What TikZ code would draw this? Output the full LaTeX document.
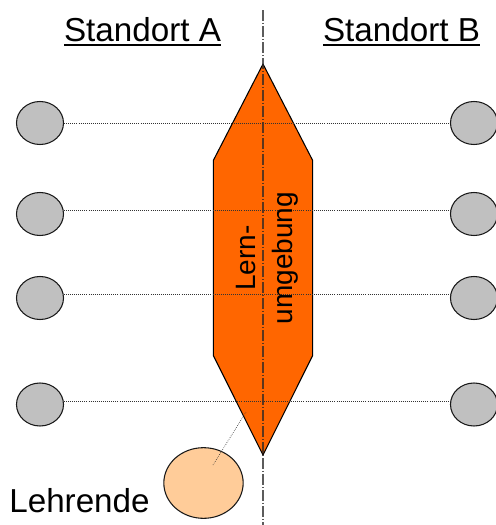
\documentclass[tikz,border=0pt]{standalone}
\usepackage{fontspec}
\setmainfont{Liberation Sans}
\usetikzlibrary{shapes.geometric}
\definecolor{lernorange}{HTML}{FF6600}
\definecolor{peach}{HTML}{FFCC99}
\definecolor{persongray}{HTML}{C0C0C0}
\newcommand{\thickul}[1]{\vtop{\hbox{#1}\kern1.9pt\hrule height 1.5pt}}
\tikzset{
  person/.style={ellipse,draw=black!90,line width=0.8pt,fill=persongray,minimum width=35.25pt,minimum height=32.25pt,inner sep=0pt},
  teacher/.style={ellipse,draw=black!90,line width=0.8pt,fill=peach,minimum width=59.5pt,minimum height=53pt,inner sep=0pt},
  heading/.style={font=\fontsize{24.9pt}{28pt}\selectfont,inner sep=0pt,anchor=base},
  link/.style={densely dotted,line width=0.55pt,black!80},
  axis/.style={dash pattern=on 8pt off 1.6pt on 0.8pt off 1.6pt,line width=1.3pt,black!85}
}
\begin{document}
\begin{tikzpicture}[x=0.75pt,y=-0.75pt]
\useasboundingbox (0,0) rectangle (496,525);
\fill[white] (0,0) rectangle (496,525);
\draw[black,line width=0.8pt,fill=lernorange,line join=round] (263,64) -- (312.7,160.5) -- (312.7,355.5) -- (263,455) -- (213.3,355.5) -- (213.3,160.5) -- cycle;
\coordinate (axistop) at (263,10);
\coordinate (axisbot) at (263,525);
\draw[axis,opacity=0.75] (axistop) -- (axisbot);
\node[person] (l1) at (40,123) {};
\node[person] (l2) at (40,214) {};
\node[person] (l3) at (40,298) {};
\node[person] (l4) at (40,404.5) {};
\node[person] (r1) at (474,123) {};
\node[person] (r2) at (474,214) {};
\node[person] (r3) at (474,298) {};
\node[person] (r4) at (474,404.5) {};
\draw[link] (l1.east) -- (r1.west);
\draw[link] (l2.8) -- (r2.172);
\draw[link] (l3.8) -- (r3.172);
\draw[link] (l4.8) -- (r4.172);
\node[teacher] (lehr) at (203.5,483) {};
\coordinate (lehrin) at (213,465);
\coordinate (lernrand) at (246,412);
\draw[link,line width=0.5pt] (lehrin) -- (lernrand);
\node[heading] (sa) at (142.5,41) {\thickul{Standort A}};
\node[heading] (sb) at (401.5,41) {\thickul{Standort B}};
\node[heading] (le) at (79.5,512.5) {Lehrende};
\node[rotate=90,align=center,inner sep=0pt,font=\fontsize{21pt}{27.5pt}\selectfont] (lu) at (267.5,258) {Lern-\\umgebung};
\end{tikzpicture}
\end{document}
